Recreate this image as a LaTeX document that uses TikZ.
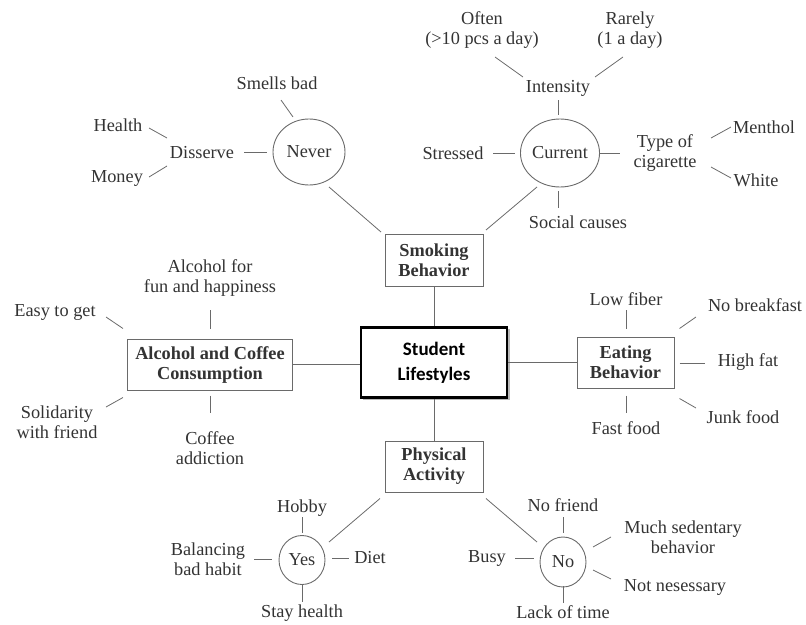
\documentclass[tikz,border=0pt]{standalone}
\usepackage{fontspec}
\setmainfont{Liberation Serif}
\newfontfamily\calibri{Carlito}
\usetikzlibrary{shapes.geometric,calc}
\definecolor{txt}{HTML}{333333}
\definecolor{ln}{HTML}{6A6A6A}
\newcommand\spk[4]{\draw[spoke] ([shift={(#2)}]#1.center) -- ([shift={(#4)}]#3.center);}
\begin{document}
\begin{tikzpicture}[x=1pt,y=-1pt,
  every node/.style={text=txt,font=\fontsize{18.3}{20}\selectfont,align=center,inner sep=0pt},
  topic/.style={draw=ln,line width=0.9pt,font=\fontsize{18.3}{20}\selectfont\bfseries,minimum width=#1},
  oval/.style={draw=ln,line width=0.9pt,ellipse,inner sep=0pt},
  spoke/.style={draw=ln,line width=0.8pt},
  link/.style={draw=ln,line width=0.9pt}]
\useasboundingbox (0,0) rectangle (806,624);
% central
\fill[gray!55] (363,329) rectangle (509.5,399.5);
\node[draw=black,fill=white,line width=2.6pt,minimum width=146pt,minimum height=70pt,text=black,font=\calibri\fontsize{19}{25}\selectfont\bfseries] (center) at (434,362.5) {Student\\Lifestyles};
% topic boxes
\node[topic=98pt,minimum height=52pt] (smoking) at (434,260) {Smoking\\Behavior};
\node[topic=165pt,minimum height=51pt] (alcohol) at (210,364.5) {Alcohol and Coffee\\Consumption};
\node[topic=97pt,minimum height=51pt] (eating) at (625.5,362.5) {Eating\\Behavior};
\node[topic=98pt,minimum height=51pt] (physical) at (434,466.5) {Physical\\Activity};
% smoking
\node[oval,minimum width=72pt,minimum height=66pt] (never) at (309,152) {Never};
\node (smells) at (277,83) {Smells bad};
\node (disserve) at (202,153) {Disserve};
\node (health) at (118,125) {Health};
\node (money) at (117,178) {Money};
\node[oval,minimum width=74pt,minimum height=68pt] (current) at (560,153) {Current};
\node (intensity) at (558,88) {Intensity};
\node (often) at (482,30) {Often\\(>10 pcs a day)};
\node (rarely) at (630,30) {Rarely\\(1 a day)};
\node (stressed) at (453,153) {Stressed};
\node (typecig) at (665,153) {Type of\\cigarette};
\node (menthol) at (764,127) {Menthol};
\node (white) at (756,180) {White};
\node (social) at (578,222) {Social causes};
% alcohol
\node (alcfun) at (210,278) {Alcohol for\\fun and happiness};
\node (easy) at (55,312) {Easy to get};
\node (solidarity) at (57,422) {Solidarity\\with friend};
\node (coffee) at (210,448) {Coffee\\addiction};
% eating
\node (lowfiber) at (626,299) {Low fiber};
\node (nobreak) at (755,305) {No breakfast};
\node (highfat) at (748,362) {High fat};
\node (junk) at (743,417) {Junk food};
\node (fastfood) at (626,428) {Fast food};
% physical
\node[oval,minimum width=46pt,minimum height=49pt] (yes) at (302,560) {Yes};
\node (hobby) at (302,508) {Hobby};
\node (balancing) at (208,559) {Balancing\\bad habit};
\node (diet) at (370,558) {Diet};
\node (stay) at (302,613) {Stay health};
\node[oval,minimum width=46pt,minimum height=50pt] (no) at (563,562) {No};
\node (nofriend) at (563,505) {No friend};
\node (much) at (683,537) {Much sedentary\\behavior};
\node (busy) at (487,558) {Busy};
\node (notnes) at (675,587) {Not nesessary};
\node (lack) at (563,612) {Lack of time};
% main links
\draw[link] (smoking.south) -- (center.north);
\draw[link] (center.south) -- (physical.north);
\draw[link] (alcohol.east) -- (alcohol.east -| center.west);
\draw[link] (center.east |- eating.west) -- (eating.west);
% spokes
\spk{smells}{4,17}{never}{-16,-35}
\spk{disserve}{42,-1}{never}{-42,0}
\spk{health}{31,3}{disserve}{-35,-15}
\spk{money}{32,-1}{disserve}{-35,13}
\spk{never}{20,35}{smoking}{-53,-28}
\spk{smoking}{52,-30}{current}{-23,34}
\spk{intensity}{0,12}{current}{-2,-38}
\spk{often}{13,27}{intensity}{-35,-11}
\spk{rarely}{-7,27}{intensity}{37,-11}
\spk{stressed}{40,0}{current}{-45,0}
\spk{current}{40,0}{typecig}{-45,0}
\spk{typecig}{46,-15}{menthol}{-33,0}
\spk{typecig}{46,14}{white}{-25,-2}
\spk{current}{-2,38}{social}{-20,-14}
\spk{alcfun}{0,32}{alcohol}{0,-36}
\spk{easy}{51,5}{alcohol}{-87,-36}
\spk{solidarity}{49,-15}{alcohol}{-87,33}
\spk{alcohol}{0,31}{coffee}{0,-35}
\spk{lowfiber}{0,11}{eating}{0.5,-34}
\spk{eating}{54,-34}{nobreak}{-59,12}
\spk{eating}{54,0.5}{highfat}{-43,1}
\spk{eating}{54,36}{junk}{-47,-9}
\spk{eating}{0.5,33}{fastfood}{0,-15}
\spk{physical}{-54,32}{yes}{27,-18}
\spk{hobby}{0,9}{yes}{0,-27}
\spk{balancing}{46,0}{yes}{-30,-1}
\spk{yes}{30,-2}{diet}{-21,0}
\spk{yes}{0,25}{stay}{0,-11}
\spk{physical}{52,32}{no}{-26,-20}
\spk{nofriend}{0,12}{no}{0,-29}
\spk{no}{30,-15}{much}{-72,0}
\spk{busy}{28,0}{no}{-29,-4}
\spk{no}{30,8}{notnes}{-64,-8}
\spk{no}{0,24}{lack}{0,-9}
\end{tikzpicture}
\end{document}
